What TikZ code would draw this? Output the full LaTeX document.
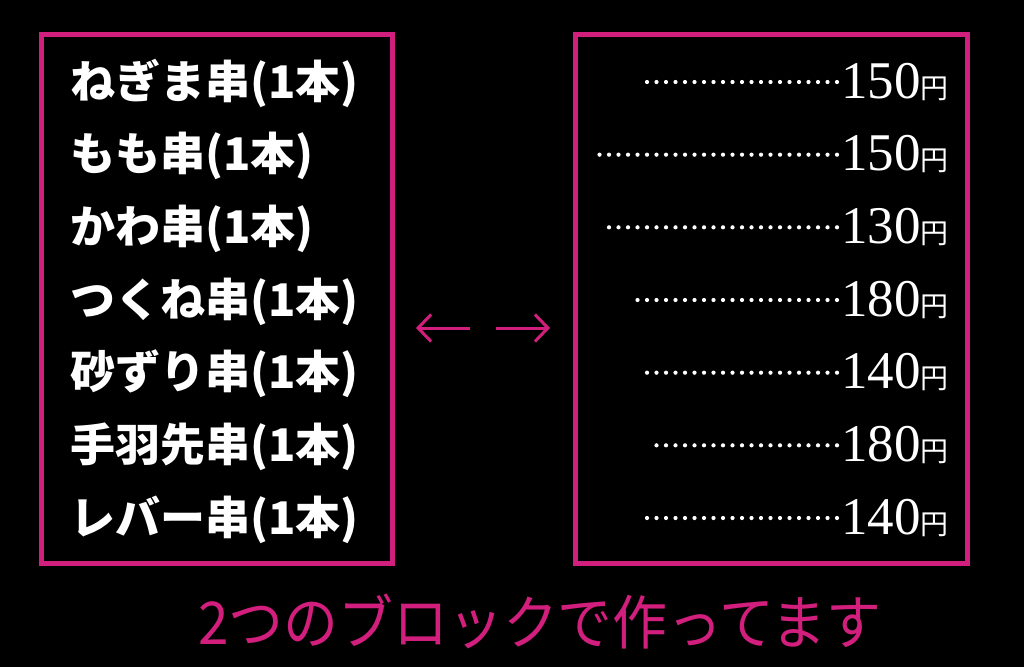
\documentclass[tikz,border=0pt]{standalone}
\usepackage{fontspec}
\usepackage{graphicx}
\usetikzlibrary{arrows.meta}
\newfontfamily\jpfont{Noto Sans CJK JP}
\newfontfamily\numfont{Liberation Serif}
\definecolor{mag}{RGB}{210,30,125}
\tikzset{
 frame/.style={draw=mag, line width=5pt, inner sep=0pt, minimum height=529pt},
 item/.style={anchor=base west, inner sep=0pt, text=white, font=\jpfont\bfseries\fontsize{45}{45}\selectfont},
 price/.style={anchor=base west, inner sep=0pt, text=white, font=\numfont\fontsize{53}{53}\selectfont},
 leader/.style={draw=white, line width=4.2pt, line cap=round, dash pattern=on 0pt off 9.5pt},
 marrow/.style={draw=mag, line width=3pt, -{Straight Barb[length=13pt,width=27pt,line width=3pt]}},
 caption/.style={anchor=base west, inner sep=0pt, text=mag, font=\jpfont\fontsize{59}{59}\selectfont}
}
\newcommand{\yen}{{\jpfont\fontsize{28}{28}\selectfont 円}}
\begin{document}
\begin{tikzpicture}[x=1pt,y=-1pt]
\fill[black] (0,0) rectangle (1024,667);
\useasboundingbox (0,0) rectangle (1024,667);
% blocks
\node[frame, minimum width=351.5pt] (left) at (216.75,298.5) {};
\node[frame, minimum width=392pt] (right) at (771.5,298.5) {};
% items
\node[item] (i1) at (70,98) {ねぎま串(1本)};
\node[item] (i2) at (70,170.67) {もも串(1本)};
\node[item] (i3) at (70,243.33) {かわ串(1本)};
\node[item] (i4) at (70,316) {つくね串(1本)};
\node[item] (i5) at (70,388.67) {砂ずり串(1本)};
\node[item] (i6) at (70,461.33) {手羽先串(1本)};
\node[item] (i7) at (70,534) {レバー串(1本)};
% leaders
\coordinate (d1s) at (644,82);     \coordinate (d1e) at (837,82);
\coordinate (d2s) at (597,154.67); \coordinate (d2e) at (837,154.67);
\coordinate (d3s) at (608,227.33); \coordinate (d3e) at (837,227.33);
\coordinate (d4s) at (636,300);    \coordinate (d4e) at (837,300);
\coordinate (d5s) at (645,372.67); \coordinate (d5e) at (837,372.67);
\coordinate (d6s) at (653,445.33); \coordinate (d6e) at (837,445.33);
\coordinate (d7s) at (644,518);    \coordinate (d7e) at (837,518);
\foreach \i in {1,...,7} { \draw[leader] (d\i e) -- (d\i s); }
% prices
\node[price] (p1) at (841,98) {150\yen};
\node[price] (p2) at (841,170.67) {150\yen};
\node[price] (p3) at (841,243.33) {130\yen};
\node[price] (p4) at (841,316) {180\yen};
\node[price] (p5) at (841,388.67) {140\yen};
\node[price] (p6) at (841,461.33) {180\yen};
\node[price] (p7) at (841,534) {140\yen};
% arrows
\coordinate (la1) at (470,328); \coordinate (la2) at (416,328);
\coordinate (ra1) at (496,328); \coordinate (ra2) at (550,328);
\draw[marrow] (la1) -- (la2);
\draw[marrow] (ra1) -- (ra2);
% caption
\node[caption] (cap) at (198,644) {\scalebox{0.93}[1]{2つのブロックで作ってます}};
\end{tikzpicture}
\end{document}
